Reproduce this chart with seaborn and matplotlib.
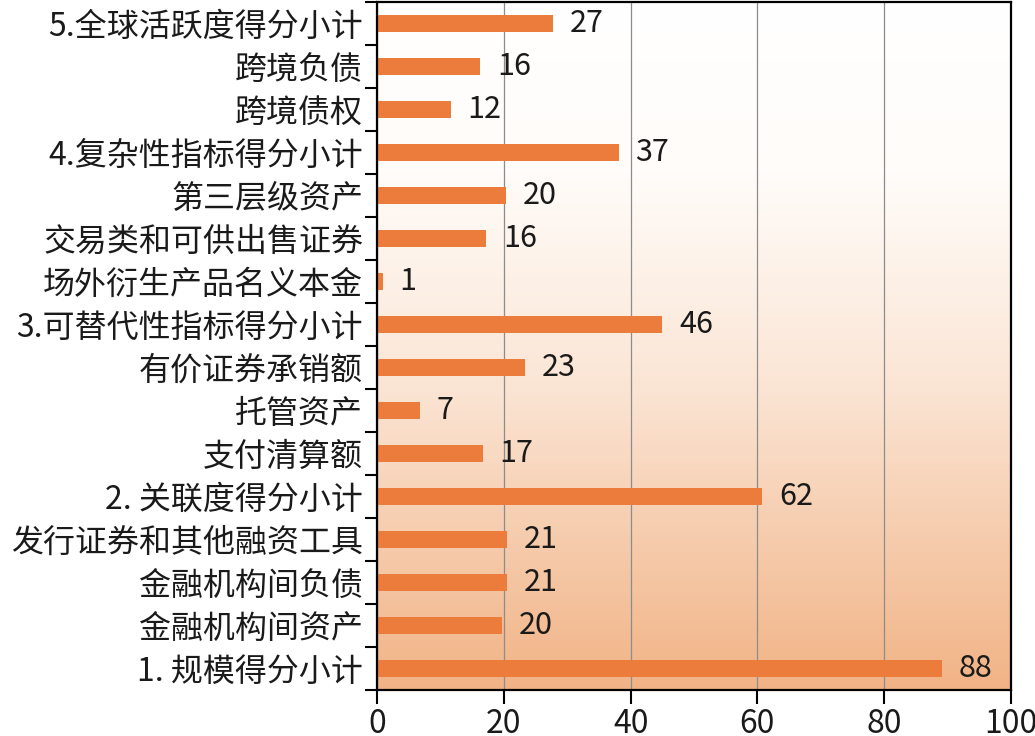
import numpy as np
import pandas as pd
import seaborn as sns
import matplotlib
matplotlib.use("Agg")
import matplotlib.pyplot as plt
from matplotlib.colors import LinearSegmentedColormap

# ---- data (top to bottom) ----
categories = [
    "5.全球活跃度得分小计", "跨境负债", "跨境债权",
    "4.复杂性指标得分小计", "第三层级资产", "交易类和可供出售证券", "场外衍生产品名义本金",
    "3.可替代性指标得分小计", "有价证券承销额", "托管资产", "支付清算额",
    "2. 关联度得分小计", "发行证券和其他融资工具", "金融机构间负债", "金融机构间资产",
    "1. 规模得分小计",
]
scores = [27.8, 16.3, 11.6, 38.1, 20.4, 17.2, 0.95, 45.0, 23.4, 6.8, 16.7,
          60.8, 20.5, 20.5, 19.7, 89.1]
score_labels = ["27", "16", "12", "37", "20", "16", "1", "46", "23", "7", "17",
                "62", "21", "21", "20", "88"]
x_ticks = [0, 20, 40, 60, 80, 100]

sns.set_theme(style="white")
plt.rcParams["font.family"] = ["Noto Sans CJK SC", "DejaVu Sans"]
plt.rcParams["font.weight"] = "light"

fig = plt.figure(figsize=(10.35, 7.36), dpi=100)
ax = fig.add_axes([0.3643, 0.0625, 0.6125, 0.9345])

# gradient background (white top -> peach bottom)
cmap = LinearSegmentedColormap.from_list(
    "peach", [(0.0, "#ffffff"), (0.25, "#fffcf9"), (0.55, "#fbe6d6"), (1.0, "#f1b386")])
grad = np.linspace(0, 1, 256).reshape(-1, 1)
ax.imshow(grad, extent=[0, 1, 0, 1], transform=ax.transAxes, origin="upper",
          aspect="auto", cmap=cmap, zorder=0)

df = pd.DataFrame({"cat": categories, "score": scores})
sns.barplot(data=df, x="score", y="cat", orient="h", color="#EC7C3C",
            saturation=1, width=0.4, linewidth=0, edgecolor="none", ax=ax, zorder=3)

for bars in ax.containers:
    ax.bar_label(bars, labels=score_labels, padding=12, fontsize=22,
                 color="#1a1a1a", fontweight="light")

ax.set_xlim(0, 100)
ax.set_ylim(len(categories) - 0.5, -0.5)
ax.set_xticks(x_ticks)
ax.set_xticklabels([str(t) for t in x_ticks], fontsize=23, color="#1a1a1a")
ax.set_yticks(range(len(categories)))
ax.set_yticklabels(categories, fontsize=23, color="#1a1a1a")
ax.set_yticks(np.arange(-0.5, len(categories), 1.0), minor=True)

ax.tick_params(axis="y", which="major", length=0, pad=10)
ax.tick_params(axis="y", which="minor", length=9, width=1.5, color="black", direction="out", left=True)
ax.tick_params(axis="x", which="major", length=10, width=1.5, color="black", direction="out",
               bottom=True, pad=3)

ax.grid(axis="x", color="#8c8c8c", linewidth=0.9, zorder=1)
ax.grid(axis="y", visible=False)
ax.set_axisbelow(True)
for s in ax.spines.values():
    s.set_visible(True)
    s.set_color("black")
    s.set_linewidth(1.6)
    s.set_zorder(5)

ax.set_xlabel("")
ax.set_ylabel("")

fig.savefig("out.png", dpi=100)
